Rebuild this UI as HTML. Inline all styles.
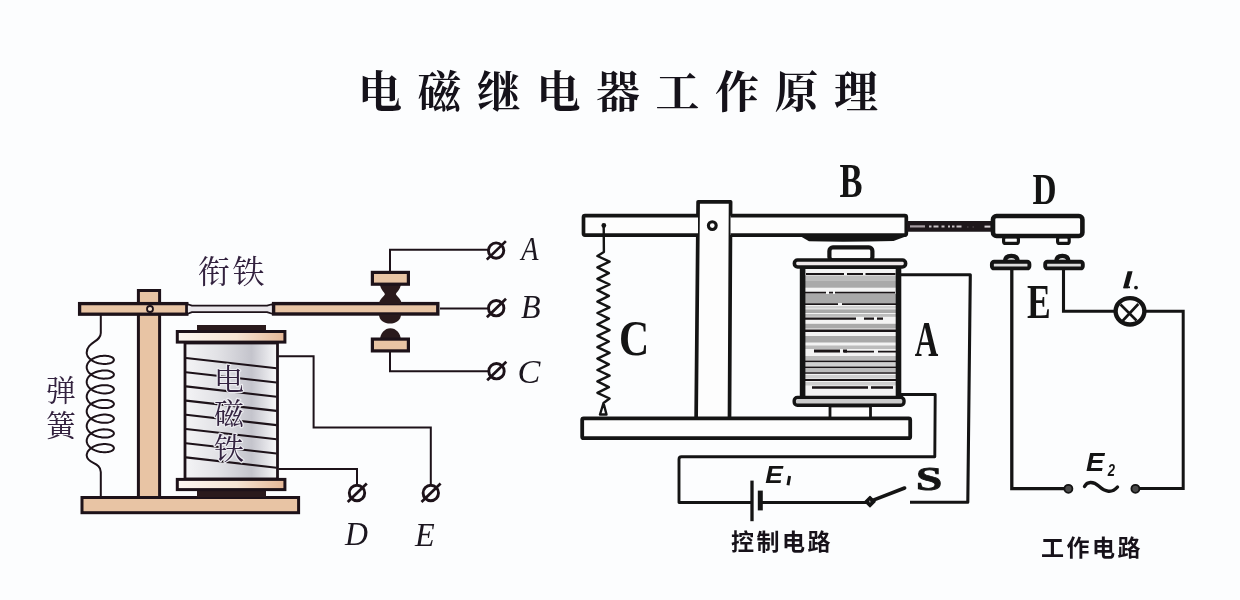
<!DOCTYPE html>
<html><head><meta charset="utf-8"><title>电磁继电器工作原理</title>
<style>
html,body{margin:0;padding:0;background:#fcfdfe;}
body{width:1240px;height:600px;overflow:hidden;font-family:"Liberation Sans",sans-serif;}
svg{display:block}
</style></head><body>
<svg width="1240" height="600" viewBox="0 0 1240 600">
<rect width="1240" height="600" fill="#fcfdfe"/>
<g style="filter:blur(0.45px)">
<text x="358" y="108" style="font-family:'Liberation Serif','Noto Serif CJK SC',serif;font-weight:bold;font-size:44px;letter-spacing:15.5px" fill="#15121a">电磁继电器工作原理</text>
<g id="left"><path d="M100.8 315 V333 C100.8 342 87 342 86.7 352.5 L86.8 353.8 L87.2 355.0 L87.7 356.3 L88.5 357.4 L89.5 358.5 L90.7 359.6 L92.0 360.5 L93.5 361.4 L95.1 362.1 L96.8 362.7 L98.5 363.2 L100.3 363.6 L102.1 363.8 L103.8 363.9 L105.5 363.9 L107.1 363.8 L108.6 363.6 L109.9 363.3 L111.1 362.8 L112.1 362.3 L112.9 361.8 L113.4 361.2 L113.8 360.5 L113.9 359.9 L113.8 359.2 L113.4 358.6 L112.9 357.9 L112.1 357.4 L111.1 356.9 L109.9 356.5 L108.6 356.1 L107.1 355.9 L105.5 355.8 L103.8 355.8 L102.1 355.9 L100.3 356.1 L98.5 356.5 L96.8 357.0 L95.1 357.6 L93.5 358.4 L92.0 359.2 L90.7 360.1 L89.5 361.2 L88.5 362.3 L87.7 363.5 L87.2 364.7 L86.8 365.9 L86.7 367.2 L86.8 368.5 L87.2 369.7 L87.7 371.0 L88.5 372.1 L89.5 373.3 L90.7 374.3 L92.0 375.2 L93.5 376.1 L95.1 376.8 L96.8 377.4 L98.5 377.9 L100.3 378.3 L102.1 378.5 L103.8 378.7 L105.5 378.6 L107.1 378.5 L108.6 378.3 L109.9 378.0 L111.1 377.5 L112.1 377.0 L112.9 376.5 L113.4 375.9 L113.8 375.2 L113.9 374.6 L113.8 373.9 L113.4 373.3 L112.9 372.7 L112.1 372.1 L111.1 371.6 L109.9 371.2 L108.6 370.8 L107.1 370.6 L105.5 370.5 L103.8 370.5 L102.1 370.6 L100.3 370.9 L98.5 371.2 L96.8 371.7 L95.1 372.3 L93.5 373.1 L92.0 373.9 L90.7 374.9 L89.5 375.9 L88.5 377.0 L87.7 378.2 L87.2 379.4 L86.8 380.7 L86.7 381.9 L86.8 383.2 L87.2 384.5 L87.7 385.7 L88.5 386.9 L89.5 388.0 L90.7 389.0 L92.0 389.9 L93.5 390.8 L95.1 391.5 L96.8 392.1 L98.5 392.6 L100.3 393.0 L102.1 393.3 L103.8 393.4 L105.5 393.4 L107.1 393.2 L108.6 393.0 L109.9 392.7 L111.1 392.3 L112.1 391.8 L112.9 391.2 L113.4 390.6 L113.8 389.9 L113.9 389.3 L113.8 388.6 L113.4 388.0 L112.9 387.4 L112.1 386.8 L111.1 386.3 L109.9 385.9 L108.6 385.6 L107.1 385.3 L105.5 385.2 L103.8 385.2 L102.1 385.3 L100.3 385.6 L98.5 385.9 L96.8 386.4 L95.1 387.0 L93.5 387.8 L92.0 388.6 L90.7 389.6 L89.5 390.6 L88.5 391.7 L87.7 392.9 L87.2 394.1 L86.8 395.4 L86.7 396.6 L86.8 397.9 L87.2 399.2 L87.7 400.4 L88.5 401.6 L89.5 402.7 L90.7 403.7 L92.0 404.7 L93.5 405.5 L95.1 406.2 L96.8 406.9 L98.5 407.4 L100.3 407.7 L102.1 408.0 L103.8 408.1 L105.5 408.1 L107.1 408.0 L108.6 407.7 L109.9 407.4 L111.1 407.0 L112.1 406.5 L112.9 405.9 L113.4 405.3 L113.8 404.7 L113.9 404.0 L113.8 403.3 L113.4 402.7 L112.9 402.1 L112.1 401.5 L111.1 401.0 L109.9 400.6 L108.6 400.3 L107.1 400.0 L105.5 399.9 L103.8 399.9 L102.1 400.0 L100.3 400.3 L98.5 400.6 L96.8 401.1 L95.1 401.8 L93.5 402.5 L92.0 403.3 L90.7 404.3 L89.5 405.3 L88.5 406.4 L87.7 407.6 L87.2 408.8 L86.8 410.1 L86.7 411.4 L86.8 412.6 L87.2 413.9 L87.7 415.1 L88.5 416.3 L89.5 417.4 L90.7 418.4 L92.0 419.4 L93.5 420.2 L95.1 421.0 L96.8 421.6 L98.5 422.1 L100.3 422.4 L102.1 422.7 L103.8 422.8 L105.5 422.8 L107.1 422.7 L108.6 422.4 L109.9 422.1 L111.1 421.7 L112.1 421.2 L112.9 420.6 L113.4 420.0 L113.8 419.4 L113.9 418.7 L113.8 418.1 L113.4 417.4 L112.9 416.8 L112.1 416.2 L111.1 415.7 L109.9 415.3 L108.6 415.0 L107.1 414.8 L105.5 414.6 L103.8 414.6 L102.1 414.7 L100.3 415.0 L98.5 415.4 L96.8 415.9 L95.1 416.5 L93.5 417.2 L92.0 418.1 L90.7 419.0 L89.5 420.0 L88.5 421.1 L87.7 422.3 L87.2 423.5 L86.8 424.8 L86.7 426.1 L86.8 427.3 L87.2 428.6 L87.7 429.8 L88.5 431.0 L89.5 432.1 L90.7 433.1 L92.0 434.1 L93.5 434.9 L95.1 435.7 L96.8 436.3 L98.5 436.8 L100.3 437.1 L102.1 437.4 L103.8 437.5 L105.5 437.5 L107.1 437.4 L108.6 437.2 L109.9 436.8 L111.1 436.4 L112.1 435.9 L112.9 435.3 L113.4 434.7 L113.8 434.1 L113.9 433.4 L113.8 432.8 L113.4 432.1 L112.9 431.5 L112.1 431.0 L111.1 430.5 L109.9 430.0 L108.6 429.7 L107.1 429.5 L105.5 429.4 L103.8 429.3 L102.1 429.5 L100.3 429.7 L98.5 430.1 L96.8 430.6 L95.1 431.2 L93.5 431.9 L92.0 432.8 L90.7 433.7 L89.5 434.7 L88.5 435.9 L87.7 437.0 L87.2 438.3 L86.8 439.5 L86.7 440.8 L86.8 442.1 L87.2 443.3 L87.7 444.5 L88.5 445.7 L89.5 446.8 L90.7 447.9 L92.0 448.8 L93.5 449.6 L95.1 450.4 L96.8 451.0 L98.5 451.5 L100.3 451.9 L102.1 452.1 L103.8 452.2 L105.5 452.2 L107.1 452.1 L108.6 451.9 L109.9 451.5 L111.1 451.1 L112.1 450.6 L112.9 450.1 L113.4 449.4 L113.8 448.8 L113.9 448.1 L113.8 447.5 L113.4 446.8 L112.9 446.2 L112.1 445.7 L111.1 445.2 L109.9 444.7 L108.6 444.4 L107.1 444.2 L105.5 444.1 L103.8 444.1 L102.1 444.2 L100.3 444.4 L98.5 444.8 L96.8 445.3 L95.1 445.9 L93.5 446.6 L92.0 447.5 L90.7 448.4 L89.5 449.5 L88.5 450.6 L87.7 451.7 L87.2 453.0 L86.8 454.2 L86.7 455.5 C87 464 100.8 462 100.8 472 V497" fill="none" stroke="#1d1219" stroke-width="2" stroke-linejoin="round"/>
<rect x="82" y="497.5" width="216.6" height="15.2" fill="#e8c4a4" stroke="#1d1219" stroke-width="3"/>
<rect x="138.4" y="290.5" width="21.2" height="207" fill="#e8c4a4" stroke="#1d1219" stroke-width="3"/>
<rect x="79.6" y="303.6" width="107.2" height="10.6" fill="#e8c4a4" stroke="#1d1219" stroke-width="3.3"/>
<circle cx="150" cy="309" r="3" fill="#f3dcc8" stroke="#1d1219" stroke-width="1.8"/>
<path d="M187 304 L192 305.6 H267 L273 304 V314 L267 312.2 H192 L187 314Z" fill="#e9e6ea" stroke="#1d1219" stroke-width="1.8" stroke-linejoin="round"/>
<rect x="273.6" y="303.6" width="164.2" height="10.4" fill="#e8c4a4" stroke="#1d1219" stroke-width="3.4"/>
<defs><linearGradient id="cyl" x1="0" x2="1" y1="0" y2="0"><stop offset="0" stop-color="#f4f4f6"/><stop offset="0.35" stop-color="#e2e2e6"/><stop offset="0.72" stop-color="#c4c4cc"/><stop offset="0.9" stop-color="#e6e6ea"/><stop offset="1" stop-color="#fafafa"/></linearGradient><linearGradient id="fl" x1="0" x2="1" y1="0" y2="0"><stop offset="0" stop-color="#fcf7f1"/><stop offset="0.55" stop-color="#f5e4d3"/><stop offset="1" stop-color="#e5b796"/></linearGradient></defs>
<rect x="185" y="343" width="92.5" height="136" fill="url(#cyl)" stroke="#1d1219" stroke-width="2.8"/>
<path d="M186 358.0 L276.5 368.3" stroke="#1d1219" stroke-width="2.1"/>
<path d="M186 372.2 L276.5 382.5" stroke="#1d1219" stroke-width="2.1"/>
<path d="M186 386.4 L276.5 396.7" stroke="#1d1219" stroke-width="2.1"/>
<path d="M186 400.6 L276.5 410.9" stroke="#1d1219" stroke-width="2.1"/>
<path d="M186 414.8 L276.5 425.1" stroke="#1d1219" stroke-width="2.1"/>
<path d="M186 429.0 L276.5 439.3" stroke="#1d1219" stroke-width="2.1"/>
<path d="M186 443.2 L276.5 453.5" stroke="#1d1219" stroke-width="2.1"/>
<path d="M186 457.4 L276.5 467.7" stroke="#1d1219" stroke-width="2.1"/>
<rect x="197" y="325" width="69" height="7" fill="#2a1a1c"/>
<rect x="197" y="490" width="69" height="7" fill="#2a1a1c"/>
<rect x="177.3" y="331.5" width="107.6" height="10.6" fill="url(#fl)" stroke="#1d1219" stroke-width="3"/>
<rect x="177.3" y="479.4" width="107.6" height="10.2" fill="url(#fl)" stroke="#1d1219" stroke-width="3"/>
<text text-anchor="middle" style="font-family:'Liberation Serif','Noto Serif CJK SC',serif;font-size:30px" fill="#33223f" stroke="#ececf0" stroke-width="2.4" paint-order="stroke" stroke-linejoin="round"><tspan x="229" y="390">电</tspan><tspan x="229" y="424">磁</tspan><tspan x="229" y="458.500">铁</tspan></text>
<path d="M278.5 356.3 H313.6 V427.5 H430.8 V486" fill="none" stroke="#1d1219" stroke-width="2"/>
<path d="M278.5 469 H357 V486" fill="none" stroke="#1d1219" stroke-width="2"/>
<path d="M390 271 V249.8 H489" fill="none" stroke="#1d1219" stroke-width="2"/>
<path d="M440 308.6 H489" fill="none" stroke="#1d1219" stroke-width="2"/>
<path d="M390 352 V371.2 H489" fill="none" stroke="#1d1219" stroke-width="2"/>
<circle cx="357" cy="493" r="7.7" fill="#fcfdfe" stroke="#1d1219" stroke-width="2.9"/>
<path d="M347.7 502 L366.8 483.5" stroke="#1d1219" stroke-width="2.7"/>
<circle cx="430.8" cy="493" r="7.7" fill="#fcfdfe" stroke="#1d1219" stroke-width="2.9"/>
<path d="M421.5 502 L440.6 483.5" stroke="#1d1219" stroke-width="2.7"/>
<circle cx="496.1" cy="250.6" r="7.7" fill="#fcfdfe" stroke="#1d1219" stroke-width="2.9"/>
<path d="M486.8 259.6 L505.90000000000003 241.1" stroke="#1d1219" stroke-width="2.7"/>
<circle cx="496.2" cy="308.2" r="7.7" fill="#fcfdfe" stroke="#1d1219" stroke-width="2.9"/>
<path d="M486.9 317.2 L506.0 298.7" stroke="#1d1219" stroke-width="2.7"/>
<circle cx="496.5" cy="371.2" r="7.7" fill="#fcfdfe" stroke="#1d1219" stroke-width="2.9"/>
<path d="M487.2 380.2 L506.3 361.7" stroke="#1d1219" stroke-width="2.7"/>
<path d="M380 285 H400.8 C400 290 396.5 292 395.8 294.2 H385 C384.3 292 381 290 380 285Z" fill="#2a1a1c"/>
<rect x="372.4" y="272.4" width="36" height="11.8" fill="#e8c4a4" stroke="#1d1219" stroke-width="3.2"/>
<path d="M379 304 C379.5 298.5 384 297 385 294 H395.8 C397 297 401.2 298.5 401.7 304Z" fill="#2a1a1c"/>
<path d="M379 314.5 H401 C401 320.5 395.5 323.6 390 323.6 C384.5 323.6 379 320.5 379 314.5Z" fill="#2a1a1c"/>
<path d="M380 340 C380 333 385 328.2 390.4 328.2 C395.8 328.2 400.8 333 400.8 340Z" fill="#2a1a1c"/>
<rect x="372.400" y="339.100" width="36" height="11.800" fill="#e8c4a4" stroke="#1d1219" stroke-width="3.200"/>
<text x="198" y="283" style="font-family:'Liberation Serif','Noto Serif CJK SC',serif;font-size:32px;letter-spacing:2.5px" fill="#33223f">衔铁</text>
<text text-anchor="middle" style="font-family:'Liberation Serif','Noto Serif CJK SC',serif;font-size:30px" fill="#33223f"><tspan x="61" y="401">弹</tspan><tspan x="61" y="435.500">簧</tspan></text>
<text transform="translate(519.7 260.3) scale(0.82 1)" x="1.9" y="0" style="font-family:'Liberation Serif',serif;font-style:italic;font-size:34.5px" fill="#1b161f">A</text>
<text transform="translate(521.4 317.9) scale(0.96 1)" x="-0.3" y="0" style="font-family:'Liberation Serif',serif;font-style:italic;font-size:33.4px" fill="#1b161f">B</text>
<text transform="translate(519.5 382.9) scale(1.0 1)" x="-1.9" y="0" style="font-family:'Liberation Serif',serif;font-style:italic;font-size:34.3px" fill="#1b161f">C</text>
<text transform="translate(344.7 544.9) scale(0.92 1)" x="0.4" y="0" style="font-family:'Liberation Serif',serif;font-style:italic;font-size:34.6px" fill="#1b161f">D</text>
<text transform="translate(414.7 545.7) scale(0.96 1)" x="0.4" y="0" style="font-family:'Liberation Serif',serif;font-style:italic;font-size:33.6px" fill="#1b161f">E</text></g>
<g id="right"><path d="M696.1 420 L698.1 201.8 H730.6 L729.5 420" fill="#fdfdfd" stroke="#141414" stroke-width="3.7" stroke-linejoin="round"/>
<rect x="582.2" y="418.4" width="328" height="19.8" rx="1.5" fill="#fdfdfd" stroke="#141414" stroke-width="3.8"/>
<path d="M698 215.7 H585 Q583.5 215.7 583.5 217.2 V233.6 Q583.5 235.1 585 235.1 H698" fill="#fdfdfd" stroke="#141414" stroke-width="3.7"/>
<path d="M730.5 215.7 H904.8 Q906.3 215.7 906.3 217.2 V233.6 Q906.3 235.1 904.8 235.1 H730.5" fill="#fdfdfd" stroke="#141414" stroke-width="3.7"/>
<path d="M800 236 H907 L893.5 240.9 Q850 242.2 809 241.3 Z" fill="#141414"/>
<circle cx="712.3" cy="225.6" r="3.9" fill="#fdfdfd" stroke="#141414" stroke-width="3.1"/>
<path d="M603.7 226.0 L603.9 252.0 L597.4 256.0 L609.6 261.7 L597.4 267.4 L608.9 273.1 L597.4 278.8 L609.6 284.5 L597.4 290.2 L608.9 295.9 L597.4 301.6 L609.6 307.3 L597.4 313.0 L608.9 318.7 L597.4 324.4 L609.6 330.1 L597.4 335.8 L608.9 341.5 L597.4 347.2 L609.6 352.9 L597.4 358.6 L608.9 364.3 L597.4 370.0 L609.6 375.7 L597.4 381.4 L608.9 387.1 L597.4 392.8 L609.6 398.5 L603.5 403.0 L600.0 414.5 L606.5 414.5 L603.5 403.0" fill="none" stroke="#141414" stroke-width="2.4" stroke-linejoin="round"/>
<circle cx="603.8" cy="225.5" r="2.4" fill="#141414"/>
<path d="M907 221 H992 V231.8 H907Z" fill="#1e171b"/>
<path d="M910 226.4 H925" stroke="#a79ca2" stroke-width="2.2"/>
<path d="M929 226.6 H962" stroke="#c9c2c6" stroke-width="2" stroke-dasharray="2.5 2 5 3 3 3.5 2 2"/>
<path d="M967 227 H978" stroke="#5a5056" stroke-width="1.2" stroke-dasharray="1.5 4"/>
<path d="M984.5 226.6 H990.5" stroke="#d9d2d6" stroke-width="2"/>
<rect x="1003.6" y="237" width="14.8" height="6.4" rx="2" fill="#fdfdfd" stroke="#141414" stroke-width="3.2"/>
<rect x="1057.6" y="237" width="11.6" height="6.4" rx="2" fill="#fdfdfd" stroke="#141414" stroke-width="3.2"/>
<rect x="993" y="216" width="89.4" height="20" rx="3.5" fill="#fdfdfd" stroke="#141414" stroke-width="4.6"/>
<path d="M1004.8 262 Q1004.8 255.8 1011.3499999999999 255.8 Q1017.9 255.8 1017.9 262Z" fill="#d8d8d8" stroke="#141414" stroke-width="4.2"/>
<rect x="991.9" y="261.7" width="37.500000000000114" height="6.7" rx="2.2" fill="#dcdcdc" stroke="#141414" stroke-width="3.9"/>
<path d="M1056.1 262 Q1056.1 255.8 1062.35 255.8 Q1068.6 255.8 1068.6 262Z" fill="#d8d8d8" stroke="#141414" stroke-width="4.2"/>
<rect x="1045.2" y="261.7" width="37.59999999999991" height="6.7" rx="2.2" fill="#dcdcdc" stroke="#141414" stroke-width="3.9"/>
<defs><linearGradient id="cg" x1="0" x2="0" y1="0" y2="1"><stop offset="0" stop-color="#a2a2a2"/><stop offset="0.35" stop-color="#b6b6b6"/><stop offset="0.7" stop-color="#cacaca"/><stop offset="1" stop-color="#e6e6e6"/></linearGradient><clipPath id="cc"><rect x="803" y="265" width="95.5" height="133"/></clipPath></defs>
<rect x="830" y="406" width="40.5" height="12" fill="#fdfdfd" stroke="#141414" stroke-width="2.8"/>
<rect x="802" y="266" width="97" height="131" fill="#f3f3f3"/>
<g clip-path="url(#cc)"><rect x="803" y="275.5" width="95" height="5.5" fill="#bcbcbc"/><rect x="803" y="281" width="95" height="6.7" fill="#a9a9a9"/><rect x="803" y="294" width="95" height="9.0" fill="#a9a9a9"/><rect x="803" y="306" width="95" height="2.5" fill="#cfcfcf"/><rect x="803" y="309.4" width="95" height="3.6" fill="#a9a9a9"/><rect x="803" y="314" width="95" height="2.8" fill="#bcbcbc"/><rect x="803" y="323.8" width="95" height="4.7" fill="#a9a9a9"/><rect x="803" y="336" width="95" height="6.5" fill="#a9a9a9"/><rect x="803" y="345.5" width="95" height="3.5" fill="#bcbcbc"/><rect x="803" y="356" width="95" height="4.0" fill="#bcbcbc"/><rect x="803" y="363" width="95" height="3.0" fill="#cfcfcf"/><rect x="803" y="369" width="95" height="3.0" fill="#bcbcbc"/><rect x="803" y="375" width="95" height="3.5" fill="#cfcfcf"/><rect x="803" y="382" width="95" height="3.5" fill="#cfcfcf"/><path d="M804 267.5 H898" stroke="#1a1517" stroke-width="3"/><path d="M804 274 H898" stroke="#1a1517" stroke-width="1.9" stroke-dasharray="0 2 38 3 16 2.5 30 5"/><path d="M804 292.7 H898" stroke="#1a1517" stroke-width="1.8" stroke-dasharray="22 3 4 2 60 3"/><path d="M804 304.2 H898" stroke="#1a1517" stroke-width="1.7" stroke-dasharray="34 4 60 3"/><path d="M804 318.7 H898" stroke="#1a1517" stroke-width="2.2" stroke-dasharray="52 8 10 3 6 30"/><path d="M804 330.8 H898" stroke="#1a1517" stroke-width="2.4"/><path d="M804 351 H898" stroke="#1a1517" stroke-width="3.2" stroke-dasharray="0 10 26 3 4 60"/><path d="M804 351.6 H898" stroke="#1a1517" stroke-width="1.6" stroke-dasharray="0 40 30 4 20 3"/><path d="M804 361.4 H898" stroke="#1a1517" stroke-width="1.7"/><path d="M804 367.4 H898" stroke="#1a1517" stroke-width="1.7"/><path d="M804 373 H898" stroke="#1a1517" stroke-width="1.7"/><path d="M804 380 H898" stroke="#1a1517" stroke-width="1.8"/><path d="M804 387.5 H898" stroke="#1a1517" stroke-width="2.6" stroke-dasharray="0 8 56 3 22 6"/></g>
<path d="M802.6 266 V398 M898.5 266 V398" stroke="#141414" stroke-width="5.6"/>
<rect x="829.4" y="247.4" width="43" height="13" rx="3.5" fill="#fdfdfd" stroke="#141414" stroke-width="4.2"/>
<rect x="794.4" y="260" width="111.2" height="7" rx="3.2" fill="#efe9ea" stroke="#141414" stroke-width="3.6"/>
<rect x="794.2" y="397.4" width="109.8" height="7.8" rx="3.2" fill="#cbcbcb" stroke="#141414" stroke-width="3.4"/>
<path d="M899 274.8 H970.3 L967.8 502.3 H910" fill="none" stroke="#141414" stroke-width="3.1" stroke-linejoin="round"/>
<path d="M899 394.5 H935.2 L934.8 456.8 H681.5 Q679 456.8 679 459.3 V502.5 H752" fill="none" stroke="#141414" stroke-width="2.9" stroke-linejoin="round"/>
<path d="M752 480.6 V521.2" stroke="#141414" stroke-width="3.3"/>
<path d="M760.3 490.6 V510.4" stroke="#141414" stroke-width="5"/>
<path d="M761 502.5 H869" stroke="#141414" stroke-width="2.9"/>
<path d="M870 496.6 L875 501.6 L870 506.6 L865 501.6Z" fill="#141414" stroke="#141414" stroke-width="1.5" stroke-linejoin="round"/><circle cx="870" cy="501.6" r="1" fill="#9a9a9a"/>
<path d="M872 500.6 L904.6 488" stroke="#141414" stroke-width="3.6" stroke-linecap="round"/>
<path d="M1011.8 269 V488.6 H1064" fill="none" stroke="#141414" stroke-width="3.3"/>
<path d="M1063.5 269 V311.3 H1115" fill="none" stroke="#141414" stroke-width="3.1"/>
<path d="M1145 311.3 H1183.2 V488.6 H1139" fill="none" stroke="#141414" stroke-width="3"/>
<ellipse cx="1130" cy="311.3" rx="14.4" ry="13.2" fill="#fdfdfd" stroke="#141414" stroke-width="4.4"/>
<path d="M1120.5 304.5 L1136.5 320.5 M1138.3 304 L1122.5 321" stroke="#141414" stroke-width="2.6"/>
<circle cx="1068.4" cy="488.8" r="4" fill="#4a4a4a" stroke="#141414" stroke-width="1.8"/>
<circle cx="1135.4" cy="488.8" r="4" fill="#4a4a4a" stroke="#141414" stroke-width="1.8"/>
<path d="M1084.5 486.5 C1087 481.5 1093 480.8 1099 486.3 C1105 492 1112 493.5 1117.5 487" fill="none" stroke="#141414" stroke-width="3.4" stroke-linecap="round"/>
<text transform="translate(840.0 197.4) scale(0.721 1)" x="-0.8" y="0" style="font-family:'Liberation Serif',serif;font-weight:bold;font-size:47.9px" fill="#141414">B</text>
<text transform="translate(1033.0 204.3) scale(0.738 1)" x="-0.8" y="0" style="font-family:'Liberation Serif',serif;font-weight:bold;font-size:45.1px" fill="#141414">D</text>
<text transform="translate(621.0 355.0) scale(0.815 1)" x="-2.5" y="0" style="font-family:'Liberation Serif',serif;font-weight:bold;font-size:51.3px" fill="#141414">C</text>
<text transform="translate(915.0 356.0) scale(0.643 1)" x="-0.5" y="0" style="font-family:'Liberation Serif',serif;font-weight:bold;font-size:50.7px" fill="#141414">A</text>
<text transform="translate(1027.5 317.5) scale(0.740 1)" x="-0.8" y="0" style="font-family:'Liberation Serif',serif;font-weight:bold;font-size:48.1px" fill="#141414">E</text>
<text transform="translate(918.5 489.7) scale(1.401 1)" x="-1.8" y="0" style="font-family:'Liberation Serif',serif;font-weight:bold;font-size:33.6px" fill="#141414" stroke="#141414" stroke-width="0.9">S</text>
<text transform="translate(765.6 482.5) scale(1.101 1)" x="-0.4" y="0" style="font-family:'Liberation Sans',sans-serif;font-weight:bold;font-style:italic;font-size:24.0px" fill="#141414">E</text>
<path d="M789.6 476 L788 485.2" stroke="#141414" stroke-width="3"/>
<text transform="translate(1086.4 471.4) scale(1.091 1)" x="-0.4" y="0" style="font-family:'Liberation Sans',sans-serif;font-weight:bold;font-style:italic;font-size:25.3px" fill="#141414">E</text>
<text transform="translate(1107.5 475.8) scale(0.789 1)" x="0.3" y="0" style="font-family:'Liberation Sans',sans-serif;font-weight:bold;font-style:italic;font-size:16.5px" fill="#141414">2</text>
<path d="M1127.6 271.2 H1132.6 L1128 288.2 H1123 Z" fill="#141414"/><path d="M1124 287.3 H1130" stroke="#141414" stroke-width="1.8"/><circle cx="1136" cy="287.6" r="1.9" fill="#141414"/>
<text x="731" y="550" style="font-family:'Liberation Sans','Noto Sans CJK SC',sans-serif;font-weight:bold;font-size:23px;letter-spacing:2.5px" fill="#17121a">控制电路</text>
<text x="1041" y="556" style="font-family:'Liberation Sans','Noto Sans CJK SC',sans-serif;font-weight:bold;font-size:23px;letter-spacing:2.5px" fill="#17121a">工作电路</text></g>
</g>
</svg>
</body></html>
